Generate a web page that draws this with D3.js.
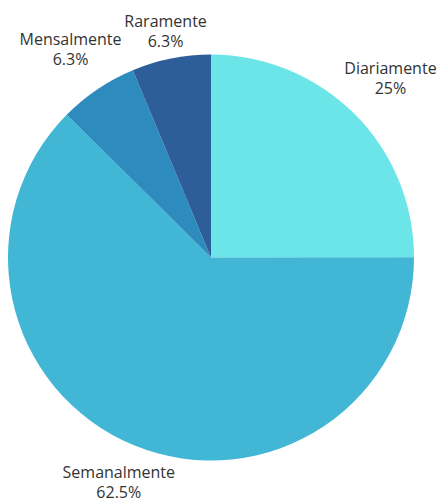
<!DOCTYPE html>
<html>
<head>
<meta charset="utf-8">
<script src="https://cdn.jsdelivr.net/npm/d3@7"></script>
<style>
  html, body { margin: 0; padding: 0; background: #fff; }
  svg text { font-family: "Open Sans", sans-serif; font-size: 16px; fill: #333; }
</style>
</head>
<body>
<svg id="chart" width="437" height="498"></svg>
<script>
// Frequency of use, share of respondents (%)
const categories = ["Diariamente", "Semanalmente", "Mensalmente", "Raramente"];
const shares = [25, 62.5, 6.3, 6.3];
const colors = ["#6ce5e8", "#41b7d5", "#2d8bbe", "#2e5e99"];

const width = 437, height = 498;
const cx = 211, cy = 257.5, radius = 203;

const svg = d3.select("#chart");
const g = svg.append("g").attr("transform", `translate(${cx},${cy})`);

const data = categories.map((c, i) => ({ category: c, value: shares[i], color: colors[i] }));

const pie = d3.pie().value(d => d.value).sort(null);
const arcs = pie(data);

const arc = d3.arc().innerRadius(0).outerRadius(radius);

g.selectAll("path.slice")
  .data(arcs)
  .join("path")
  .attr("class", "slice")
  .attr("d", arc)
  .attr("fill", d => d.data.color);

// Labels sit outside the pie; diagonal positions are pushed further out
// so the two-line block clears the rim.
const fmt = v => (Math.round(v * 10) / 10).toString() + "%";
const labelPos = d => {
  const a = (d.startAngle + d.endAngle) / 2;
  const rr = radius + 14 + 37 * Math.abs(Math.sin(2 * a));
  return [Math.sin(a) * rr, -Math.cos(a) * rr];
};

const labels = g.selectAll("text.label")
  .data(arcs)
  .join("text")
  .attr("class", "label")
  .attr("text-anchor", "middle")
  .attr("transform", d => `translate(${labelPos(d)})`);

labels.append("tspan")
  .attr("x", 0)
  .attr("y", -4)
  .text(d => d.data.category);

labels.append("tspan")
  .attr("x", 0)
  .attr("y", 16)
  .text(d => fmt(d.data.value));
</script>
</body>
</html>
